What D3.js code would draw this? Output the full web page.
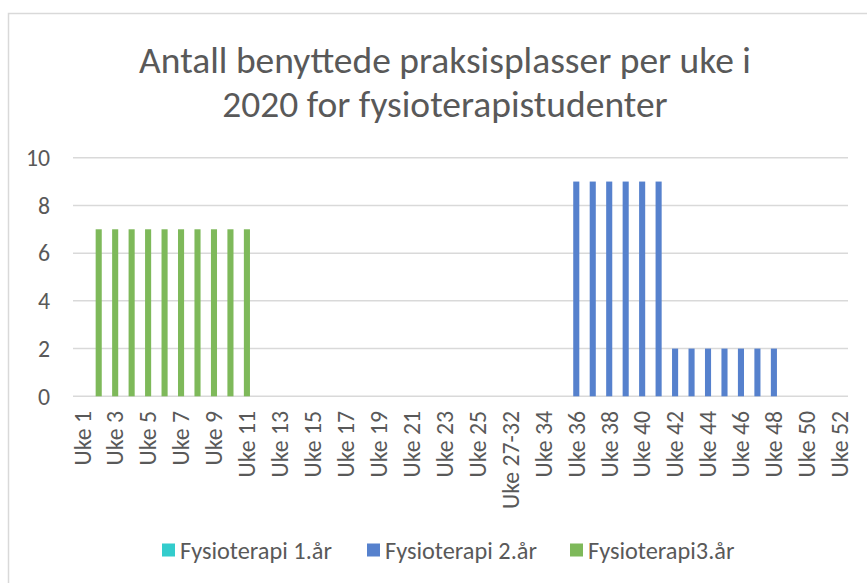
<!DOCTYPE html>
<html>
<head>
<meta charset="utf-8">
<script src="https://cdn.jsdelivr.net/npm/d3@7"></script>
<style>
  html, body { margin: 0; padding: 0; background: #fff; }
  svg { display: block; }
</style>
</head>
<body>
<script>
// Data
const weeks = [
  "Uke 1", "Uke 2", "Uke 3", "Uke 4", "Uke 5", "Uke 6", "Uke 7", "Uke 8", "Uke 9", "Uke 10",
  "Uke 11", "Uke 12", "Uke 13", "Uke 14", "Uke 15", "Uke 16", "Uke 17", "Uke 18", "Uke 19", "Uke 20",
  "Uke 21", "Uke 22", "Uke 23", "Uke 24", "Uke 25", "Uke 26", "Uke 27-32", "Uke 33", "Uke 34", "Uke 35",
  "Uke 36", "Uke 37", "Uke 38", "Uke 39", "Uke 40", "Uke 41", "Uke 42", "Uke 43", "Uke 44", "Uke 45",
  "Uke 46", "Uke 47", "Uke 48", "Uke 49", "Uke 50", "Uke 51", "Uke 52"
];
const fys1 = [
  0, 0, 0, 0, 0, 0, 0, 0, 0, 0,
  0, 0, 0, 0, 0, 0, 0, 0, 0, 0,
  0, 0, 0, 0, 0, 0, 0, 0, 0, 0,
  0, 0, 0, 0, 0, 0, 0, 0, 0, 0,
  0, 0, 0, 0, 0, 0, 0
];
const fys2 = [
  0, 0, 0, 0, 0, 0, 0, 0, 0, 0,
  0, 0, 0, 0, 0, 0, 0, 0, 0, 0,
  0, 0, 0, 0, 0, 0, 0, 0, 0, 0,
  9, 9, 9, 9, 9, 9, 2, 2, 2, 2,
  2, 2, 2, 0, 0, 0, 0
];
const fys3 = [
  0, 7, 7, 7, 7, 7, 7, 7, 7, 7,
  7, 0, 0, 0, 0, 0, 0, 0, 0, 0,
  0, 0, 0, 0, 0, 0, 0, 0, 0, 0,
  0, 0, 0, 0, 0, 0, 0, 0, 0, 0,
  0, 0, 0, 0, 0, 0, 0
];
const seriesNames = ["Fysioterapi 1.år", "Fysioterapi 2.år", "Fysioterapi3.år"];
const seriesColors = ["#33cccc", "#5681cd", "#7eb95a"];
const yTicks = [0, 2, 4, 6, 8, 10];
const titleLines = ["Antall benyttede praksisplasser per uke i", "2020 for fysioterapistudenter"];

const width = 867, height = 583;
const textColor = "#595959";
const font = "Carlito, Calibri, Lato, sans-serif";

const svg = d3.create("svg")
  .attr("width", width)
  .attr("height", height)
  .attr("viewBox", [0, 0, width, height])
  .style("font-family", font);

svg.append("rect").attr("width", width).attr("height", height).attr("fill", "#fff");

// Chart border (only left and top are inside the picture)
svg.append("path")
  .attr("d", `M8.5,${height} V13.5 H${width}`)
  .attr("fill", "none")
  .attr("stroke", "#d9d9d9")
  .attr("stroke-width", 1.5);

// Scales
const x = d3.scaleBand()
  .domain(weeks)
  .range([74, 848])
  .paddingInner(0.63)
  .paddingOuter(0.315);

const y = d3.scaleLinear()
  .domain([0, 10])
  .range([396.3, 157.7]);

// shrink/grow a text selection so its first node hits a target width
function fitWidth(sel, target, size) {
  sel.style("font-size", size + "px");
  const w = sel.node().getComputedTextLength();
  sel.style("font-size", (size * target / w) + "px");
}

// Gridlines
svg.append("g")
  .selectAll("line")
  .data(yTicks)
  .join("line")
  .attr("x1", 73)
  .attr("x2", 848)
  .attr("y1", d => y(d))
  .attr("y2", d => y(d))
  .attr("stroke", "#d9d9d9")
  .attr("stroke-width", 1.5);

// Y labels
const yLabels = svg.append("g")
  .selectAll("text")
  .data(yTicks)
  .join("text")
  .attr("x", 50)
  .attr("y", d => y(d))
  .attr("dy", "0.35em")
  .attr("text-anchor", "end")
  .attr("fill", textColor)
  .text(d => d);

// Bars, series overlap on the same band
const series = [fys1, fys2, fys3];
series.forEach((values, s) => {
  svg.append("g")
    .selectAll("rect")
    .data(weeks.map((w, i) => ({ week: w, value: values[i] })).filter(d => d.value > 0))
    .join("rect")
    .attr("x", d => x(d.week))
    .attr("width", x.bandwidth())
    .attr("y", d => y(d.value))
    .attr("height", d => y(0) - y(d.value))
    .attr("fill", seriesColors[s]);
});

// X labels, every other week
const xLabels = svg.append("g")
  .selectAll("text")
  .data(weeks.filter((w, i) => i % 2 === 0))
  .join("text")
  .attr("transform", d => `translate(${x(d) + x.bandwidth() / 2},411) rotate(-90)`)
  .attr("dy", "0.35em")
  .attr("text-anchor", "end")
  .attr("fill", textColor)
  .text(d => d);

// Title
const title = svg.append("g")
  .selectAll("text")
  .data(titleLines)
  .join("text")
  .attr("x", 445)
  .attr("y", (d, i) => 73 + i * 44)
  .attr("text-anchor", "middle")
  .attr("fill", textColor)
  .text(d => d);

// Legend
const legendX = [162, 367, 570];
const legend = svg.append("g")
  .selectAll("g")
  .data(seriesNames)
  .join("g")
  .attr("transform", (d, i) => `translate(${legendX[i]},543.5)`);

legend.append("rect")
  .attr("width", 13)
  .attr("height", 13)
  .attr("fill", (d, i) => seriesColors[i]);

const legendText = legend.append("text")
  .attr("x", 18)
  .attr("y", 6.5)
  .attr("dy", "0.35em")
  .attr("fill", textColor)
  .text(d => d);

document.body.appendChild(svg.node());

// Size fonts to match the widths in the reference
fitWidth(title, 612, 28);
fitWidth(xLabels.filter(d => d === "Uke 27-32"), 98, 20);
xLabels.style("font-size", xLabels.filter(d => d === "Uke 27-32").style("font-size"));
fitWidth(legendText, 152, 20);
yLabels.style("font-size", xLabels.style("font-size"));
</script>
</body>
</html>
